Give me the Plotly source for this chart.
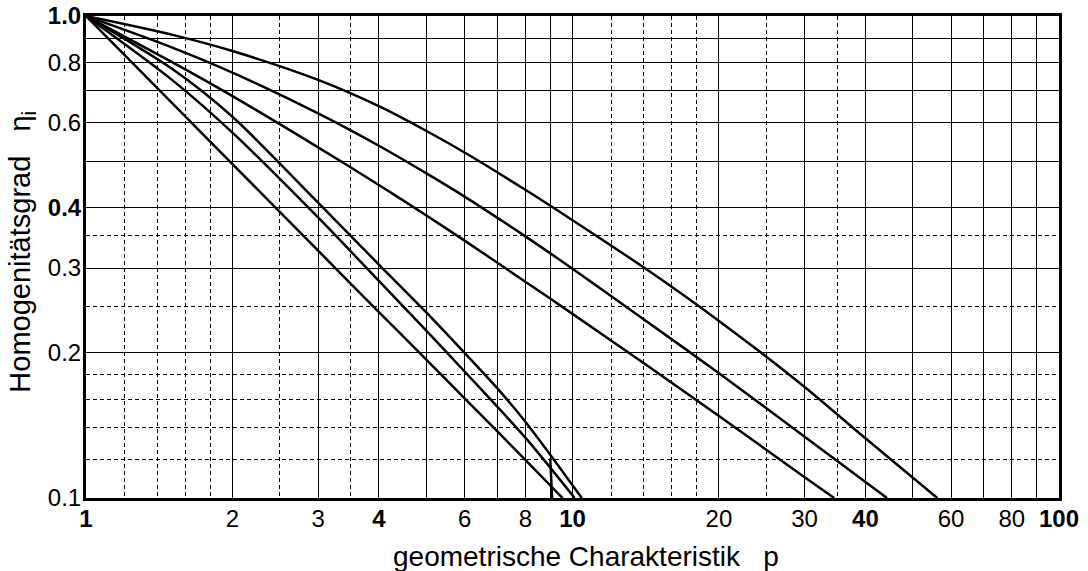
import plotly.graph_objects as go

# ---- data ----
p_A = [1, 1.5, 2, 3, 4, 5, 6, 8, 10, 14, 20, 30, 40, 56.2]
eta_A = [1.0, 0.915, 0.846, 0.737, 0.650, 0.578, 0.521, 0.436, 0.377, 0.301, 0.233, 0.170, 0.133, 0.1]

p_B = [1, 1.5, 2, 3, 4, 5, 6, 8, 10, 14, 20, 30, 44.3]
eta_B = [1.0, 0.861, 0.763, 0.628, 0.538, 0.472, 0.422, 0.349, 0.299, 0.235, 0.1815, 0.134, 0.1]

p_C = [1, 1.5, 2, 3, 4, 5, 6, 8, 10, 14, 20, 30, 34.5]
eta_C = [1.0, 0.803, 0.682, 0.534, 0.446, 0.386, 0.342, 0.281, 0.241, 0.1905, 0.148, 0.1104, 0.1]

p_D = [1, 1.5, 2, 3, 4, 5, 6, 7, 8, 9, 10.45]
eta_D = [1.0, 0.778, 0.618, 0.41, 0.305, 0.243, 0.2, 0.169, 0.144, 0.123, 0.1]

p_E = [1, 1.5, 2, 3, 4, 5, 6, 8, 10.1]
eta_E = [1.0, 0.738, 0.573, 0.382, 0.282, 0.2228, 0.183, 0.1334, 0.1]

p_F = [1, 2, 3, 4, 5, 6, 8, 9.54]
eta_F = [1.0, 0.493, 0.326, 0.243, 0.194, 0.161, 0.12, 0.1]

# short near-vertical piece at p ~ 9 (bottom)
p_G = [9.0, 9.08]
eta_G = [0.121, 0.1]

curves = [(p_A, eta_A), (p_B, eta_B), (p_C, eta_C), (p_D, eta_D), (p_E, eta_E), (p_F, eta_F), (p_G, eta_G)]

x_major = [1, 2, 3, 4, 5, 6, 7, 8, 9, 10, 20, 30, 40, 50, 60, 70, 80, 90, 100]
x_major_text = ['<b>1</b>', '2', '3', '<b>4</b>', ' ', '6', ' ', '8', ' ', '<b>10</b>',
                '20', '30', '<b>40</b>', ' ', '60', ' ', '80', ' ', '<b>100</b>']
x_minor = [1.2, 1.4, 1.6, 1.8, 2.5, 3.5, 12, 14, 16, 18, 25, 35]

y_major = [0.1, 0.2, 0.3, 0.4, 0.5, 0.6, 0.7, 0.8, 0.9, 1.0]
y_major_text = ['0.1', '0.2', '0.3', '<b>0.4</b>', ' ', '0.6', ' ', '0.8', ' ', '<b>1.0</b>']
y_minor = [0.12, 0.14, 0.16, 0.18, 0.25, 0.35]

x_title = 'geometrische Charakteristik\u00a0\u00a0 p'
y_title = 'Homogenitätsgrad\u00a0\u00a0 η<sub>i</sub>'

FONT = 'Liberation Sans, Arial, sans-serif'

fig = go.Figure()
for px_, ey in curves:
    fig.add_trace(go.Scatter(x=px_, y=ey, mode='lines',
                             line=dict(color='black', width=2.5, shape='spline', smoothing=0.8),
                             showlegend=False, hoverinfo='skip'))

fig.update_layout(
    width=1088, height=571,
    margin=dict(l=86, r=29, t=16, b=73),
    paper_bgcolor='white', plot_bgcolor='white',
    font=dict(family=FONT, color='black', size=24),
    annotations=[
        dict(text=x_title, xref='paper', yref='paper', x=0.514, y=-0.1224,
             xanchor='center', yanchor='middle', showarrow=False, font=dict(size=28)),
        dict(text=y_title, xref='paper', yref='paper', x=-0.0658, y=0.511, textangle=-90,
             xanchor='center', yanchor='middle', showarrow=False, font=dict(size=29)),
    ],
)
fig.update_xaxes(
    type='log', range=[0, 2], automargin=False, tickangle=0, ticklabeloverflow='allow',
    tickmode='array', tickvals=x_major, ticktext=x_major_text, ticklabelstandoff=-3,
    showgrid=True, gridcolor='black', gridwidth=1.3,
    minor=dict(tickmode='array', tickvals=x_minor, showgrid=True, gridcolor='black',
               gridwidth=1.3, griddash='4px,3px', ticks=''),
    showline=True, linecolor='black', linewidth=3, mirror=True,
    ticks='', zeroline=False,
    tickfont=dict(size=24),
)
fig.update_yaxes(
    type='log', range=[-1, 0], automargin=False, ticklabeloverflow='allow',
    tickmode='array', tickvals=y_major, ticktext=y_major_text, ticklabelstandoff=-3,
    showgrid=True, gridcolor='black', gridwidth=1.3,
    minor=dict(tickmode='array', tickvals=y_minor, showgrid=True, gridcolor='black',
               gridwidth=1.3, griddash='4px,3px', ticks=''),
    showline=True, linecolor='black', linewidth=3, mirror=True,
    ticks='', zeroline=False,
    tickfont=dict(size=24),
)

fig.write_html('out.html', config={'displayModeBar': False},
               post_script="document.body.style.margin='0px';")
